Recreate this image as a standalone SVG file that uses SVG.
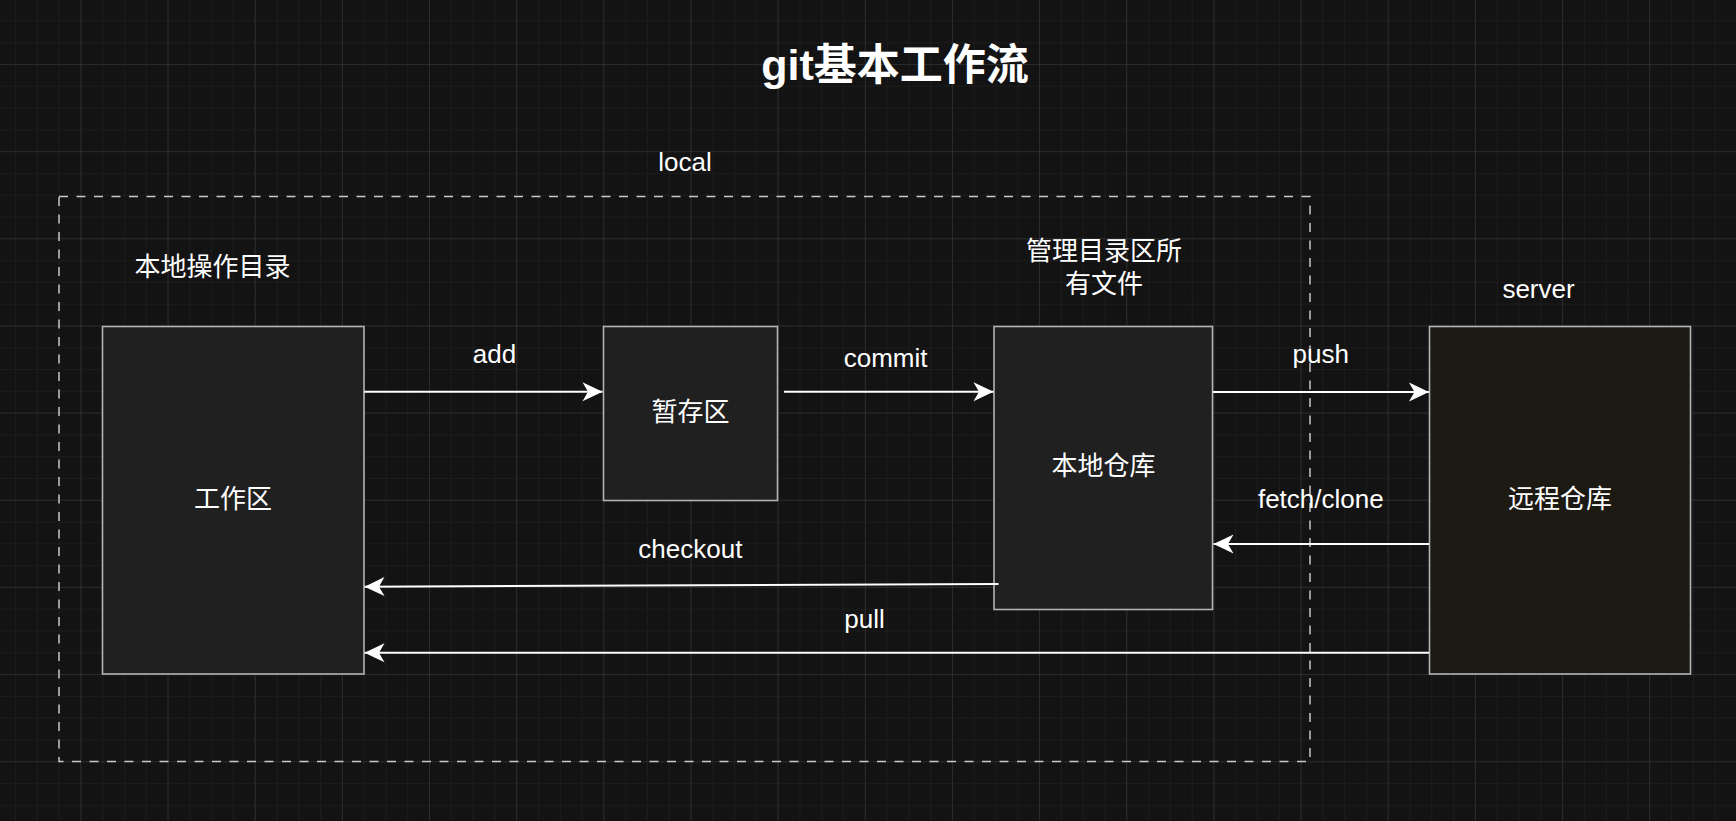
<svg xmlns="http://www.w3.org/2000/svg" width="1736" height="821" viewBox="0 0 1736 821">
<style>
text{font-family:"Liberation Sans","Noto Sans CJK SC",sans-serif;fill:#ffffff;font-size:26px;text-anchor:middle}
.title{font-size:43px;font-weight:bold}
.box{fill:#202020;stroke:#b3b3b3;stroke-width:1.6}
.remote{fill:#1d1a14}
.conn{stroke:#ffffff;stroke-width:2;fill:none}
.group{fill:none;stroke:#c8c8c8;stroke-width:1.5;stroke-dasharray:9 8.5}
</style>
<defs>
<pattern id="minor" x="80.4" y="64" width="21.79" height="21.79" patternUnits="userSpaceOnUse">
<path d="M0,0 V21.79 M0,0 H21.79" stroke="#242424" stroke-width="1" fill="none"/>
</pattern>
<pattern id="major" x="80.4" y="64" width="87.15" height="87.15" patternUnits="userSpaceOnUse">
<path d="M0,0 V87.15 M0,0 H87.15" stroke="#3a3a3a" stroke-width="1" fill="none"/>
</pattern>
<marker id="arr" viewBox="-21 -11 22 22" markerWidth="22" markerHeight="22" refX="0" refY="0" orient="auto" markerUnits="userSpaceOnUse">
<path d="M0,0 L-20,-9.5 L-14.5,0 L-20,9.5 Z" fill="#ffffff"/>
</marker>
</defs>
<rect width="1736" height="821" fill="#131313"/>
<rect width="1736" height="821" fill="url(#minor)"/>
<rect width="1736" height="821" fill="url(#major)"/>

<g id="title"><text class="title" x="895" y="80">git基本工作流</text></g>

<g id="local-group">
<rect class="group" x="59" y="196.5" width="1251" height="565"/>
<text x="685" y="170.5">local</text>
</g>

<g id="label-workdir"><text x="212.5" y="276">本地操作目录</text></g>
<g id="label-repo"><text x="1104" y="260">管理目录区所</text><text x="1104" y="292.5">有文件</text></g>
<g id="label-server"><text x="1538.5" y="297.5">server</text></g>

<g id="workspace">
<rect class="box" x="102.5" y="326.5" width="261.5" height="347.5"/>
<text x="233" y="508">工作区</text>
</g>
<g id="stage">
<rect class="box" x="603.5" y="326.5" width="174" height="174"/>
<text x="690.5" y="421">暂存区</text>
</g>
<g id="local-repo">
<rect class="box" x="994" y="326.5" width="218.5" height="283"/>
<text x="1103.5" y="475">本地仓库</text>
</g>
<g id="remote-repo">
<rect class="box remote" x="1429.5" y="326.5" width="261" height="347.5"/>
<text x="1560" y="508">远程仓库</text>
</g>

<g id="connectors">
<line class="conn" x1="364.2" y1="391.7" x2="602.5" y2="391.7" marker-end="url(#arr)"/>
<line class="conn" x1="784" y1="391.7" x2="993.5" y2="391.7" marker-end="url(#arr)"/>
<line class="conn" x1="1213" y1="392" x2="1429" y2="392" marker-end="url(#arr)"/>
<line class="conn" x1="1429" y1="544" x2="1213.5" y2="544" marker-end="url(#arr)"/>
<line class="conn" x1="998.5" y1="584" x2="364.5" y2="586.7" marker-end="url(#arr)"/>
<line class="conn" x1="1429" y1="652.7" x2="364.5" y2="652.7" marker-end="url(#arr)"/>
<text x="494.5" y="363.3">add</text>
<text x="885.6" y="366.5">commit</text>
<text x="1320.8" y="362.7">push</text>
<text x="1320.8" y="507.7">fetch/clone</text>
<text x="690.4" y="558">checkout</text>
<text x="864.5" y="628.3">pull</text>
</g>
</svg>
